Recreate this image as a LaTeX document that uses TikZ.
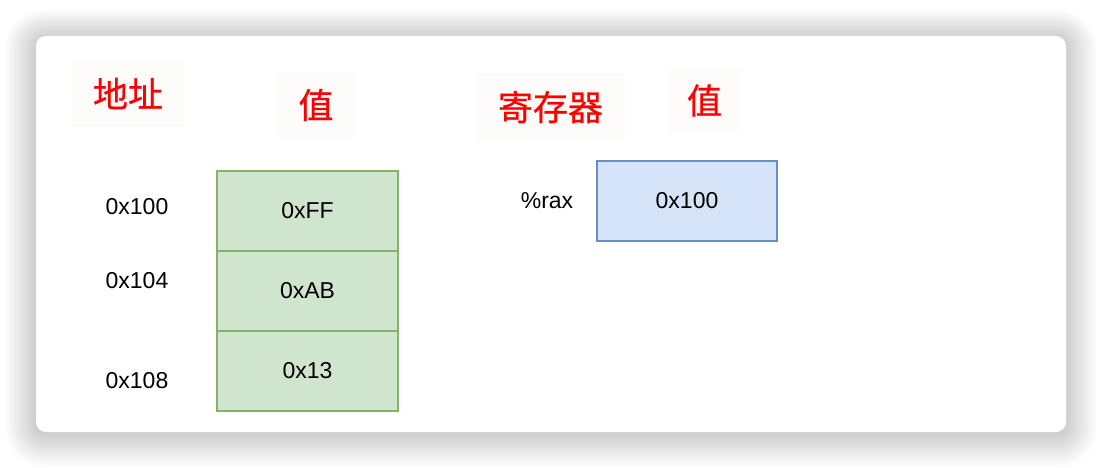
\documentclass[tikz,border=0pt]{standalone}
\usepackage{fontspec}
\setmainfont{Liberation Sans}
\newfontfamily\cjk[FakeBold=0.6]{Noto Sans CJK SC}
\definecolor{hdrbg}{HTML}{FDFCFA}
\definecolor{gfill}{HTML}{D0E5CD}
\definecolor{gline}{HTML}{82B366}
\definecolor{bfill}{HTML}{D6E4FA}
\definecolor{bline}{HTML}{6C8EBF}
\begin{document}
\begin{tikzpicture}[x=1pt,y=-1pt,
  hdr/.style={fill=hdrbg,draw=none,inner sep=0pt},
  hdrtext/.style={text=red,font=\cjk\fontsize{35}{38}\selectfont,inner sep=0pt},
  addr/.style={font=\fontsize{23}{26}\selectfont,inner sep=0pt},
  cell/.style={draw=gline,fill=gfill,line width=1.5pt,minimum width=181pt,minimum height=80pt,inner sep=0pt,font=\fontsize{23}{26}\selectfont},
  reg/.style={draw=bline,fill=bfill,line width=1.5pt,minimum width=180pt,minimum height=80pt,inner sep=0pt,font=\fontsize{23}{26}\selectfont}]
\useasboundingbox (0,0) rectangle (1102,468);
\fill[white] (0,0) rectangle (1102,468);
% shadow
\foreach \i in {1,...,24}{
  \fill[black,opacity=0.009,rounded corners={10pt+1.3*\i pt}]
    (36-1.3*\i,38-1.2*\i) rectangle (1066+1.3*\i,434+1.4*\i);
}
\node[fill=white,rounded corners=10pt,minimum width=1030pt,minimum height=396pt,inner sep=0pt] (card) at (551,234) {};
% headers
\node[hdr,minimum width=112pt,minimum height=67pt] (h1) at (128,93.5) {};
\node[hdrtext] (t1) at (h1) {地址};
\node[hdr,minimum width=76pt,minimum height=66pt] (h2) at (316,105) {};
\node[hdrtext] (t2) at (h2) {值};
\node[hdr,minimum width=149pt,minimum height=68pt] (h3) at (550.5,107) {};
\node[hdrtext] (t3) at (h3) {寄存器};
\node[hdr,minimum width=75pt,minimum height=67pt] (h4) at (704.5,100.5) {};
\node[hdrtext] (t4) at (h4) {值};
% memory cells
\node[cell] (c1) at (307.5,211) {0xFF};
\node[cell] (c2) at (307.5,291) {0xAB};
\node[cell] (c3) at (307.5,371) {0x13};
% addresses
\node[addr] (a1) at (137,207) {0x100};
\node[addr] (a2) at (137,281) {0x104};
\node[addr] (a3) at (137,381) {0x108};
% register
\node[addr] (rl) at (547,201) {\%rax};
\node[reg] (r1) at (687,201) {0x100};
\end{tikzpicture}
\end{document}
